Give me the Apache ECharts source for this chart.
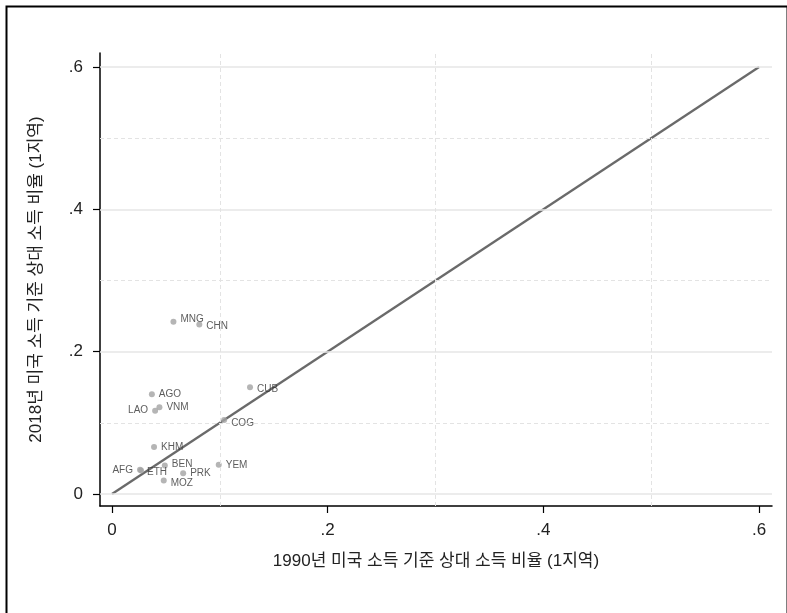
<!DOCTYPE html>
<html>
<head>
<meta charset="utf-8">
<script src="https://cdn.jsdelivr.net/npm/echarts@6/dist/echarts.min.js"></script>
<style>
html,body{margin:0;padding:0;background:#fff;}
#c{width:787px;height:613px;}
</style>
</head>
<body>
<div id="c"></div>
<script>
// ---- data ----
var countries = ['MNG','CHN','CUB','AGO','VNM','LAO','COG','KHM','AFG','ETH','BEN','PRK','MOZ','YEM'];
var income1990 = [0.057,0.081,0.128,0.037,0.044,0.040,0.104,0.039,0.026,0.027,0.049,0.066,0.048,0.099];
var income2018 = [0.242,0.238,0.150,0.140,0.122,0.117,0.104,0.066,0.034,0.033,0.040,0.029,0.019,0.041];
var refLine = [[0,0],[0.6,0.6]];
var xTicks = [0,0.2,0.4,0.6];
var yTicks = [0,0.2,0.4,0.6];
var xMinorGrid = [0.1,0.3,0.5];
var yMajorGrid = [0,0.2,0.4,0.6];
var yMinorGrid = [0.1,0.3,0.5];
var xTitle = '1990년 미국 소득 기준 상대 소득 비율 (1지역)';
var yTitle = '2018년 미국 소득 기준 상대 소득 비율 (1지역)';

var leftLabels = {LAO:true, AFG:true};
var labelOffsets = {MNG:[0,-3], CHN:[0,2], CUB:[0,2], COG:[0,3], MOZ:[0,3], ETH:[-1,2], BEN:[0,-1]};

var FONT = "'Liberation Sans', 'Noto Sans CJK KR', sans-serif";
function fmt(v){ if (Math.abs(v) < 1e-9) return '0'; return String(+v.toFixed(2)).replace(/^0/, ''); }

var points = countries.map(function(c,i){
  var left = !!leftLabels[c];
  var off = labelOffsets[c] || [0,0];
  return {
    name: c,
    value: [income1990[i], income2018[i]],
    label: {position: left ? 'left' : 'right', offset: off, distance: 4}
  };
});

var chart = echarts.init(document.getElementById('c'), null, {renderer:'canvas'});
chart.setOption({
  animation: false,
  backgroundColor: '#fff',
  graphic: [{
    type: 'rect', left: 4, top: 4, z: 100,
    shape: {width: 781, height: 700},
    style: {fill: 'none', stroke: '#000', lineWidth: 2}
  }],
  grid: {left: 100, right: 15, top: 53, bottom: 107, containLabel: false},
  xAxis: {
    type: 'value', min: -0.0111, max: 0.612,
    name: xTitle, nameLocation: 'middle', nameGap: 47,
    nameTextStyle: {fontFamily: FONT, fontSize: 17, color: '#222'},
    axisLine: {show: true, onZero: false, lineStyle: {color: '#000', width: 1.5}},
    axisTick: {show: true, length: 7, customValues: xTicks, lineStyle: {color: '#000', width: 1.2}},
    axisLabel: {customValues: xTicks, formatter: fmt, fontFamily: FONT, fontSize: 17, color: '#222', margin: 16},
    splitLine: {show: false}
  },
  yAxis: {
    type: 'value', min: -0.0169, max: 0.6197,
    name: yTitle, nameLocation: 'middle', nameGap: 55, nameRotate: 90,
    nameTextStyle: {fontFamily: FONT, fontSize: 17, color: '#222'},
    axisLine: {show: true, onZero: false, lineStyle: {color: '#000', width: 1.5}},
    axisTick: {show: true, length: 7, customValues: yTicks, lineStyle: {color: '#000', width: 1.2}},
    axisLabel: {customValues: yTicks, formatter: fmt, fontFamily: FONT, fontSize: 17, color: '#222', margin: 17},
    splitLine: {show: false}
  },
  series: [
    {
      type: 'line', data: [], silent: true,
      markLine: {
        silent: true, symbol: 'none', label: {show: false}, animation: false,
        data: []
          .concat(yMajorGrid.map(function(v){ return {yAxis: v, lineStyle: {color: '#e6e6e6', width: 1.5, type: 'solid'}}; }))
          .concat(yMinorGrid.map(function(v){ return {yAxis: v, lineStyle: {color: '#e3e3e3', width: 1, type: [4,3]}}; }))
          .concat(xMinorGrid.map(function(v){ return {xAxis: v, lineStyle: {color: '#e3e3e3', width: 1, type: [4,3]}}; }))
      },
      z: 1
    },
    {
      type: 'line', data: refLine, symbol: 'none', z: 3,
      lineStyle: {color: '#6a6a6a', width: 2.3}
    },
    {
      type: 'scatter', data: points, symbolSize: 6, z: 4,
      itemStyle: {color: '#a3a3a3'},
      label: {show: true, formatter: '{b}', fontFamily: FONT, fontSize: 10, color: '#333'}
    }
  ]
});
</script>
</body>
</html>
